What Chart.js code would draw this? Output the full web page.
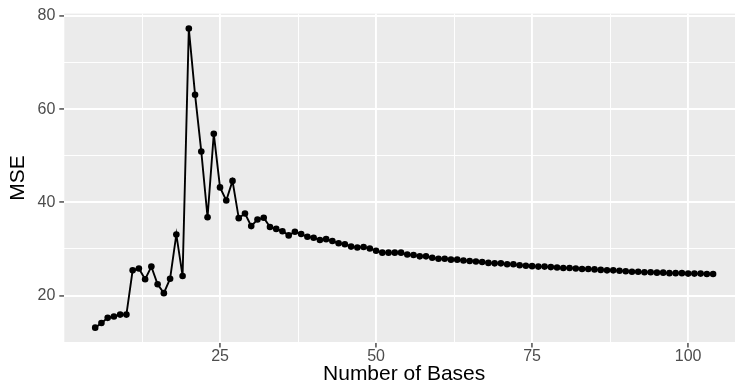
<!DOCTYPE html>
<html><head><meta charset="utf-8">
<script src="https://cdn.jsdelivr.net/npm/chart.js@4"></script>
<style>
html,body{margin:0;padding:0;overflow:hidden;background:#fff;width:735px;height:388px}
#wrap{width:754px;height:388px;position:relative}
</style></head><body>
<div id="wrap"><canvas id="c" width="754" height="388"></canvas></div>
<script>
const bases = [5,6,7,8,9,10,11,12,13,14,15,16,17,18,19,20,21,22,23,24,25,26,27,28,29,30,31,32,33,34,35,36,37,38,39,40,41,42,43,44,45,46,47,48,49,50,51,52,53,54,55,56,57,58,59,60,61,62,63,64,65,66,67,68,69,70,71,72,73,74,75,76,77,78,79,80,81,82,83,84,85,86,87,88,89,90,91,92,93,94,95,96,97,98,99,100,101,102,103,104];
const mse = [13.1,14.1,15.2,15.5,15.9,15.9,25.4,25.8,23.5,26.2,22.4,20.5,23.6,33.1,24.2,77.3,63.1,50.9,36.8,54.7,43.2,40.4,44.6,36.6,37.6,34.9,36.3,36.7,34.7,34.3,33.8,32.9,33.7,33.2,32.6,32.4,31.9,32.1,31.7,31.2,31.0,30.5,30.3,30.4,30.1,29.6,29.2,29.2,29.2,29.2,28.8,28.7,28.4,28.4,28.1,27.9,27.9,27.7,27.7,27.5,27.4,27.3,27.2,27.0,26.9,26.9,26.7,26.7,26.5,26.4,26.3,26.2,26.2,26.1,26.0,25.9,25.9,25.8,25.7,25.7,25.6,25.5,25.4,25.4,25.3,25.2,25.1,25.1,25.0,25.0,24.9,24.9,24.8,24.8,24.8,24.7,24.7,24.7,24.6,24.6];
const xMajor = [25,50,75,100];
const xMinor = [12.5,37.5,62.5,87.5];
const yMajor = [20,40,60,80];
const yMinor = [10,30,50,70];
const xTitle = 'Number of Bases';
const yTitle = 'MSE';

const points = bases.map((b,i)=>({x:b,y:mse[i]}));
const FONT = "'Liberation Sans', Arial, Helvetica, sans-serif";

const panelBg = {
  id:'panelBg',
  beforeDraw(chart){
    const {ctx, chartArea:a} = chart;
    ctx.save();
    ctx.fillStyle='#ffffff';
    ctx.fillRect(0,0,chart.width,chart.height);
    ctx.fillStyle='#EBEBEB';
    ctx.fillRect(a.left,a.top,a.right-a.left,a.bottom-a.top);
    ctx.restore();
  }
};

function axisCfg(major, minor, min, max, fitProp, fitVal, title, titlePad, tickPad){
  return {
    type:'linear', min:min, max:max,
    afterBuildTicks(s){ s.ticks = minor.concat(major).sort((a,b)=>a-b).map(v=>({value:v})); },
    afterFit(s){ s[fitProp] = fitVal; },
    grid:{
      color:'#ffffff',
      lineWidth:(c)=> (c.tick && major.includes(c.tick.value)) ? 1.9 : 0.95,
      tickColor:(c)=> (c.tick && major.includes(c.tick.value)) ? '#333333' : 'rgba(0,0,0,0)',
      tickWidth:1.3,
      tickLength:5,
      drawTicks:true
    },
    border:{display:false},
    ticks:{
      autoSkip:false, maxRotation:0, minRotation:0,
      padding:tickPad,
      color:'#4D4D4D',
      font:{family:FONT,size:16},
      callback:(v)=> major.includes(v) ? String(v) : ''
    },
    title:{display:true,text:title,color:'#000000',font:{family:FONT,size:21},padding:titlePad}
  };
}

new Chart(document.getElementById('c'), {
  type:'line',
  data:{datasets:[{
    data:points,
    borderColor:'#000000',
    borderWidth:1.9,
    backgroundColor:'#000000',
    pointRadius:3.3,
    pointBackgroundColor:'#000000',
    pointBorderWidth:0,
    tension:0,
    fill:false
  }]},
  options:{
    responsive:false,
    devicePixelRatio:1,
    animation:false,
    events:[],
    layout:{padding:{top:12.7,right:10,left:0,bottom:0}},
    plugins:{legend:{display:false},tooltip:{enabled:false}},
    scales:{
      x: axisCfg(xMajor, xMinor, 0.05, 108.95, 'height', 45.4, xTitle, {top:0,bottom:1}, -1),
      y: axisCfg(yMajor, yMinor, 9.89, 80.51, 'width', 64.3, yTitle, {top:5.5,bottom:0}, 4)
    }
  },
  plugins:[panelBg]
});
</script>
</body></html>
